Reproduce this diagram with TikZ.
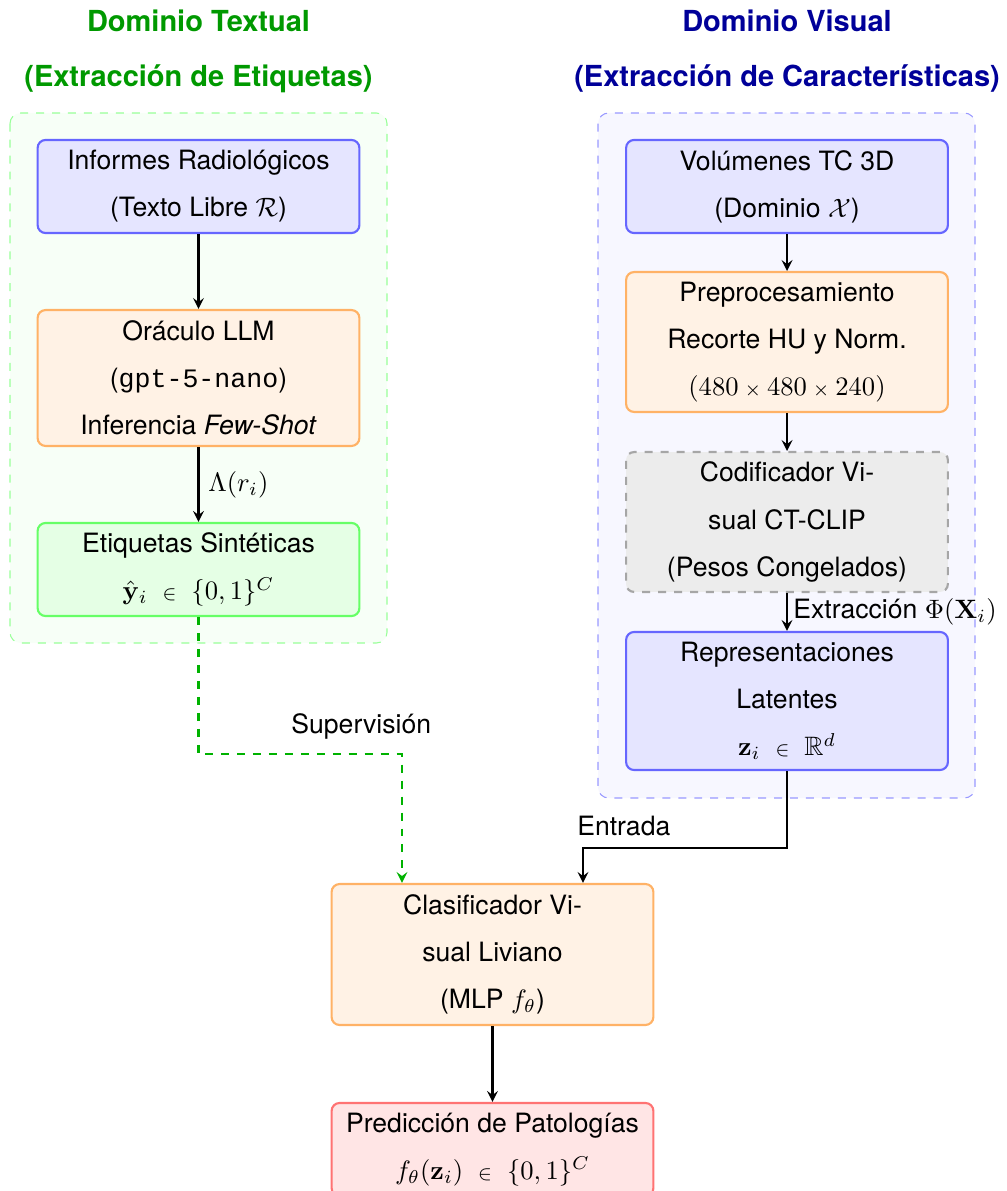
\documentclass[tikz,border=0pt]{standalone}
\usepackage{amsmath,amssymb}
\usepackage[no-math]{fontspec}
\setmainfont{TeX Gyre Heros}
\setmonofont{Liberation Mono}
\begin{document}
\begin{tikzpicture}[>=stealth, x=0.376pt, y=-0.376pt,
    box/.style={rectangle, rounded corners=3pt, thick, align=center,
        minimum width=121pt, inner sep=2pt,
        font=\fontsize{10pt}{17.7pt}\selectfont},
    bluebox/.style={box, draw=blue!60, fill=blue!10},
    orangebox/.style={box, draw=orange!60, fill=orange!10},
    greenbox/.style={box, draw=green!60, fill=green!10},
    graybox/.style={box, draw=gray!70, fill=gray!15, dashed},
    redbox/.style={box, draw=red!55, fill=red!10},
    title/.style={align=center, font=\fontsize{10.9pt}{20.7pt}\selectfont\bfseries},
    flecha/.style={->, thick}]
    % --- parametros ---
    \def\xL{198.5}   % centro columna textual
    \def\xR{787}     % centro columna visual
    \def\xC{492.5}   % centro columna inferior
    \newcommand{\pert}{\;\mathrel{\scriptstyle\in}\;}

    \useasboundingbox (0,0) rectangle (1006,1191);

    % --- 1. fondos de los dominios ---
    \draw[dashed, draw=green!40, fill=green!3, rounded corners=4pt] (10,113) rectangle (387,643);
    \draw[dashed, draw=blue!40, fill=blue!3, rounded corners=4pt] (598,113) rectangle (975,798);

    % --- 2. titulos ---
    \node[title, text=green!60!black] (tituloT) at (\xL,51.5) {Dominio Textual\\(Extracción de Etiquetas)};
    \node[title, text=blue!60!black] (tituloV) at (\xR,51.5) {Dominio Visual\\(Extracción de Características)};

    % --- 3. dominio textual ---
    \node[bluebox, minimum height=35pt] (informes) at (\xL,186.5) {Informes Radiológicos\\(Texto Libre $\mathcal{R}$)};
    \node[orangebox, minimum height=51.1pt] (oraculo) at (\xL,378) {Oráculo LLM\\(\texttt{gpt-5-nano})\\Inferencia \textit{Few-Shot}};
    \node[greenbox, minimum height=35pt] (etiquetas) at (\xL,569.5) {Etiquetas Sintéticas\\$\hat{\mathbf{y}}_i \pert \{0,1\}^C$};

    % --- 4. dominio visual ---
    \node[bluebox, minimum height=35pt] (volumenes) at (\xR,186.5) {Volúmenes TC 3D\\(Dominio $\mathcal{X}$)};
    \node[orangebox, minimum height=52.6pt] (preproc) at (\xR,342) {Preprocesamiento\\Recorte HU y Norm.\\$(480 \mathbin{\scriptstyle\times} 480 \mathbin{\scriptstyle\times} 240)$};
    \node[graybox, minimum height=52.6pt] (codificador) at (\xR,522) {Codificador Vi-\\sual CT-CLIP\\(Pesos Congelados)};
    \node[bluebox, minimum height=51.9pt] (latentes) at (\xR,701) {Representaciones\\Latentes\\$\mathbf{z}_i \pert \mathbb{R}^d$};

    % --- 5. clasificador y prediccion ---
    \node[orangebox, minimum height=53pt] (clasificador) at (\xC,954.5) {Clasificador Vi-\\sual Liviano\\(MLP $f_\theta$)};
    \node[redbox, minimum height=35pt] (prediccion) at (\xC,1149.5) {Predicción de Patologías\\$f_\theta(\mathbf{z}_i) \pert \{0,1\}^C$};

    % puntos de llegada sobre el clasificador
    \coordinate (supIn) at (clasificador.north -| 402,0);
    \coordinate (entIn) at (clasificador.north -| 583,0);

    % --- 6. flechas ---
    \draw[flecha] (informes) -- (oraculo);
    \draw[flecha] (oraculo) -- node[right] {$\Lambda(r_i)$} (etiquetas);
    \draw[flecha] (volumenes) -- (preproc);
    \draw[flecha] (preproc) -- (codificador);
    \draw[flecha] (codificador) -- node[right, inner sep=2pt] {Extracción $\Phi(\mathbf{X}_i)$} (latentes);
    \draw[flecha] (clasificador) -- (prediccion);

    % supervision (linea discontinua)
    \draw[->, thick, dashed, green!70!black] (etiquetas.south) -- ++(0,137)
        -| node[pos=0.4, above, text=black, yshift=2pt] {Supervisión} (supIn);
    % entrada
    \draw[flecha] (latentes.south) -- ++(0,77)
        -| node[pos=0.4, above, yshift=1pt] {Entrada} (entIn);

\end{tikzpicture}
\end{document}
